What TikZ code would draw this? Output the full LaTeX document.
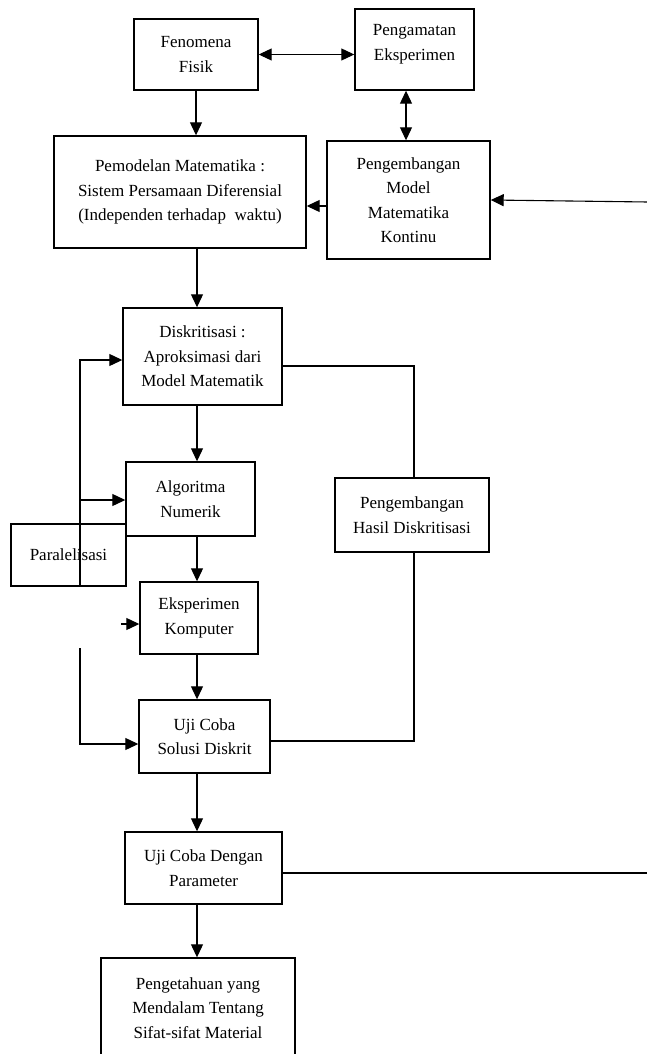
\documentclass[tikz,border=0pt]{standalone}
\usepackage{fontspec}
\setmainfont{Liberation Serif}
\usetikzlibrary{arrows.meta}
\begin{document}
\begin{tikzpicture}[x=1pt,y=-1pt,>={Triangle[length=13pt,width=12pt]},
  kotak/.style={draw,line width=1.4pt,align=center,inner sep=0pt,font=\fontsize{17}{24.5}\selectfont},
  garis/.style={line width=1.1pt}]
  \useasboundingbox (0,0) rectangle (647,1054);
  \node[kotak,minimum width=124pt,minimum height=71pt] (fen) at (196,54.5) {Fenomena\\Fisik};
  \node[kotak,minimum width=119pt,minimum height=81pt,text depth=14pt] (pen) at (414.5,49.5) {Pengamatan\\Eksperimen};
  \node[kotak,minimum width=252pt,minimum height=112pt] (mod) at (180,192) {Pemodelan Matematika :\\Sistem Persamaan Diferensial\\(Independen terhadap\ \ waktu)};
  \node[kotak,minimum width=163pt,minimum height=118pt] (pmk) at (408.5,200) {Pengembangan\\Model\\Matematika\\Kontinu};
  \node[kotak,minimum width=159pt,minimum height=97pt] (dis) at (202.5,356.5) {Diskritisasi :\\Aproksimasi dari\\Model Matematik};
  \node[kotak,minimum width=129pt,minimum height=74pt] (alg) at (190.5,499) {Algoritma\\Numerik};
  \node[kotak,minimum width=115pt,minimum height=62pt] (par) at (68.5,555) {Paralelisasi};
  \node[kotak,minimum width=154pt,minimum height=74pt] (hsl) at (412,515) {Pengembangan\\Hasil Diskritisasi};
  \node[kotak,minimum width=118pt,minimum height=72pt] (eks) at (199,618) {Eksperimen\\Komputer};
  \node[kotak,minimum width=131pt,minimum height=73pt] (ujs) at (204.5,736.5) {Uji Coba\\Solusi Diskrit};
  \node[kotak,minimum width=157pt,minimum height=72pt] (ujp) at (203.5,868) {Uji Coba Dengan\\Parameter};
  \node[kotak,minimum width=194pt,minimum height=100pt] (pgt) at (198,1008) {Pengetahuan yang\\Mendalam Tentang\\Sifat-sifat Material};
  \coordinate (spine) at (197,0);
  \coordinate (kiri) at (406,0);
  \coordinate (pm) at (0,206);
  \coordinate (lt) at (80,360);
  \coordinate (la) at (80,500);
  \coordinate (lb) at (80,586);
  \coordinate (lc) at (80,648);
  \coordinate (ld) at (80,744);
  \coordinate (ek) at (121,624);
  \coordinate (hk) at (414,366);
  \coordinate (hb) at (414,741);
  \coordinate (rt) at (648,202);
  \coordinate (re) at (648,873);
  \draw[garis,<->] (fen.east) -- (fen.east -| pen.west);
  \draw[garis,->] (fen.south) -- (fen.south |- mod.north);
  \draw[garis,<->] (kiri |- pen.south) -- (kiri |- pmk.north);
  \draw[garis,->] (pm -| pmk.west) -- (pm -| mod.east);
  \draw[garis,->] (rt) -- (pmk.east);
  \draw[garis,->] (mod.south -| spine) -- (dis.north -| spine);
  \draw[garis,->] (dis.south -| spine) -- (alg.north -| spine);
  \draw[garis,->] (alg.south -| spine) -- (eks.north -| spine);
  \draw[garis,->] (eks.south -| spine) -- (ujs.north -| spine);
  \draw[garis,->] (ujs.south -| spine) -- (ujp.north -| spine);
  \draw[garis,->] (ujp.south -| spine) -- (pgt.north -| spine);
  \draw[garis,->] (lb) -- (lt) -- (lt -| dis.west);
  \draw[garis,->] (la) -- (la -| alg.west);
  \draw[garis,->] (lc) -- (ld) -- (ld -| ujs.west);
  \draw[garis,->] (ek) -- (ek -| eks.west);
  \draw[garis] (hk -| dis.east) -- (hk) -- (hk |- hsl.north);
  \draw[garis] (hk |- hsl.south) -- (hb) -- (hb -| ujs.east);
  \draw[garis] (re -| ujp.east) -- (re);
\end{tikzpicture}
\end{document}
